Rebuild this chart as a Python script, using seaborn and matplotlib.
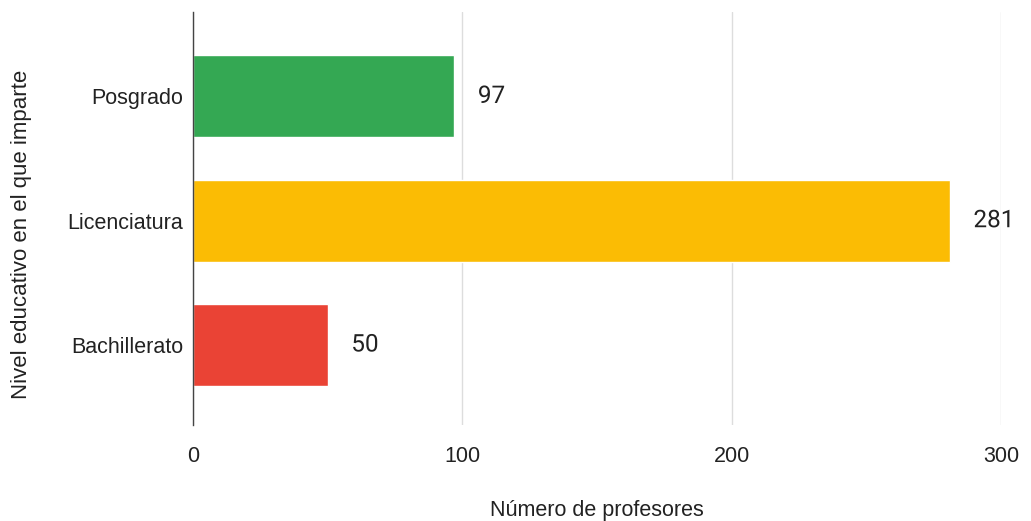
import matplotlib
matplotlib.use("Agg")
import matplotlib.pyplot as plt
import matplotlib.patheffects as pe
import seaborn as sns
import pandas as pd

# --- data ---
niveles = ["Posgrado", "Licenciatura", "Bachillerato"]
profesores = [97, 281, 50]
colores = ["#34A853", "#FBBC04", "#EA4335"]

df = pd.DataFrame({"nivel": niveles, "n": profesores})

sns.set_style("white")
plt.rcParams["font.family"] = ["Liberation Sans", "DejaVu Sans"]

fig = plt.figure(figsize=(10.31, 5.21), dpi=100)
ax = fig.add_axes([0.1872, 0.1843, 0.7837, 0.7927])

sns.barplot(data=df, x="n", y="nivel", hue="nivel", palette=colores,
            width=0.66, legend=False, ax=ax, saturation=1)

ax.set_xlim(0, 300)
ax.set_ylim(2.644, -0.68)
ax.set_xticks([0, 100, 200, 300])
ax.xaxis.grid(True, color="#dddddd", linewidth=1)
ax.set_axisbelow(True)
for s in ["top", "right", "bottom"]:
    ax.spines[s].set_visible(False)
ax.spines["left"].set_color("#444444")
ax.spines["left"].set_linewidth(1)
ax.tick_params(axis="both", length=0, labelsize=15.5, colors="#222222")
ax.tick_params(axis="y", pad=7)
ax.tick_params(axis="x", pad=15)
ax.set_xlabel("")
ax.set_ylabel("")

for i, v in enumerate(profesores):
    ax.annotate(str(v), xy=(v, i), xytext=(17, 0), textcoords="offset points",
                ha="left", va="center", fontsize=17.5, color="#222222",
                family=["Roboto", "DejaVu Sans"],
                path_effects=[pe.withStroke(linewidth=3, foreground="white")])

fig.text(0.579, 0.021, "Número de profesores", ha="center", va="center",
         fontsize=15.5, color="#222222")
fig.text(0.021, 0.551, "Nivel educativo en el que imparte", rotation=90,
         ha="center", va="center", fontsize=16, color="#222222")

fig.savefig("out.png", dpi=100)
